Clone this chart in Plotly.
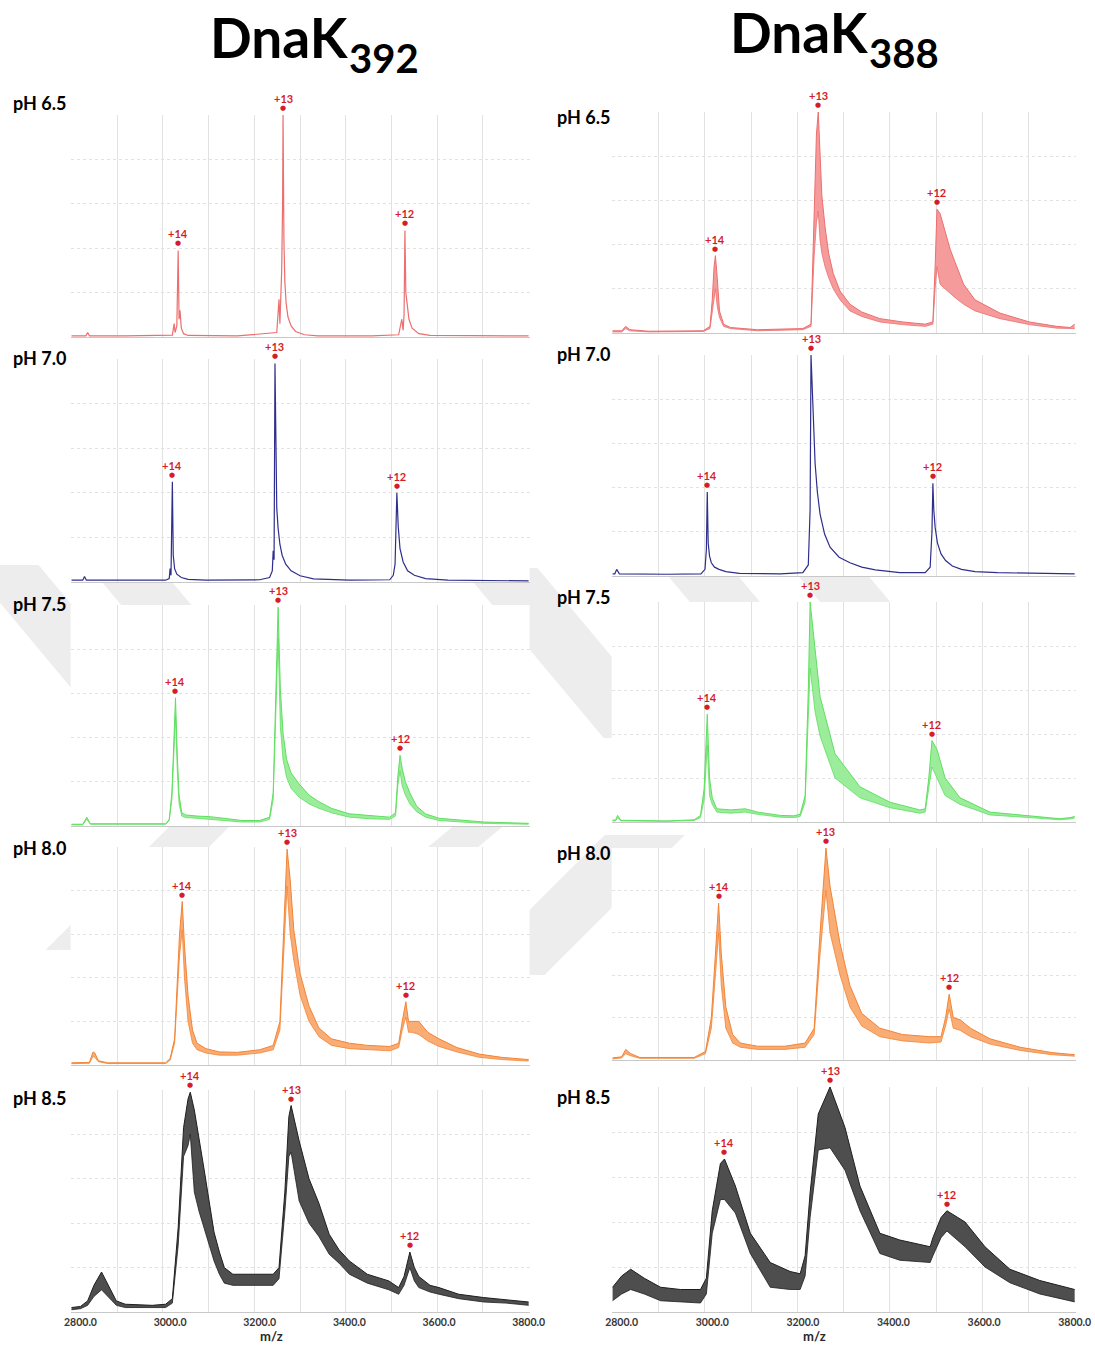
import plotly.graph_objects as go

# ---------------------------------------------------------------- data
# m/z axis window and tick labels
mz_range = [2780, 3800]
tick_vals = [2800, 3000, 3200, 3400, 3600, 3800]
tick_text = ["2800.0", "3000.0", "3200.0", "3400.0", "3600.0", "3800.0"]
charge_labels = ["+14", "+13", "+12"]
ph_labels = ["pH 6.5", "pH 7.0", "pH 7.5", "pH 8.0", "pH 8.5"]

# ---- DnaK392 ----
mz_392_65 = [2780, 2812, 2816, 2820, 2900, 3005, 3009, 3011, 3015, 3018, 3020, 3022, 3025, 3030, 3040,
             3150, 3238, 3243, 3245, 3249, 3251, 3252, 3254, 3256, 3259, 3263, 3270, 3280, 3300, 3330,
             3450, 3510, 3517, 3520, 3522, 3524, 3526, 3529, 3533, 3540, 3555, 3580, 3700, 3800]
hi_392_65 = [0.005, 0.005, 0.02, 0.005, 0.005, 0.008, 0.06, 0.02, 0.05, 0.39, 0.08, 0.12, 0.04, 0.015, 0.007,
             0.005, 0.02, 0.17, 0.06, 0.3, 0.6, 1.0, 0.43, 0.25, 0.15, 0.09, 0.05, 0.025, 0.01, 0.005,
             0.005, 0.01, 0.08, 0.03, 0.1, 0.48, 0.2, 0.14, 0.08, 0.04, 0.015, 0.007, 0.005, 0.005]
pk_mz_392_65 = [3018, 3252, 3524]
pk_int_392_65 = [0.39, 1.0, 0.48]

mz_392_70 = [2780, 2805, 2809, 2813, 2990, 2998, 3000, 3002, 3005, 3007, 3010, 3015, 3025, 3040, 3080,
             3200, 3222, 3228, 3230, 3232, 3234, 3236, 3238, 3241, 3245, 3250, 3258, 3270, 3290, 3320,
             3400, 3490, 3498, 3502, 3506, 3509, 3513, 3520, 3530, 3545, 3570, 3620, 3800]
hi_392_70 = [0.008, 0.008, 0.025, 0.008, 0.008, 0.015, 0.06, 0.03, 0.45, 0.12, 0.06, 0.035, 0.02, 0.012, 0.008,
             0.01, 0.02, 0.05, 0.14, 0.1, 0.98, 0.5, 0.33, 0.24, 0.17, 0.12, 0.08, 0.05, 0.028, 0.014,
             0.008, 0.01, 0.03, 0.08, 0.40, 0.25, 0.15, 0.09, 0.05, 0.03, 0.015, 0.008, 0.005]
pk_mz_392_70 = [3005, 3234, 3506]
pk_int_392_70 = [0.45, 0.98, 0.40]

mz_392_75 = [2780, 2805, 2814, 2822, 2990, 2998, 3004, 3008, 3012, 3016, 3020, 3026, 3035, 3060, 3090,
             3120, 3160, 3200, 3222, 3230, 3236, 3241, 3246, 3252, 3260, 3270, 3288, 3310, 3332, 3360,
             3400, 3450, 3490, 3503, 3508, 3513, 3518, 3525, 3535, 3550, 3570, 3600, 3650, 3700, 3800]
hi_392_75 = [0.008, 0.008, 0.04, 0.01, 0.01, 0.03, 0.15, 0.35, 0.58, 0.32, 0.14, 0.06, 0.05, 0.045, 0.042,
             0.035, 0.025, 0.025, 0.04, 0.15, 0.6, 0.99, 0.62, 0.42, 0.3, 0.24, 0.19, 0.14, 0.11, 0.08,
             0.055, 0.045, 0.04, 0.06, 0.22, 0.32, 0.26, 0.2, 0.15, 0.09, 0.055, 0.035, 0.025, 0.018, 0.012]
lo_392_75 = [0.005, 0.005, 0.03, 0.008, 0.008, 0.025, 0.12, 0.3, 0.5, 0.25, 0.1, 0.045, 0.038, 0.035, 0.03,
             0.025, 0.018, 0.018, 0.03, 0.12, 0.5, 0.85, 0.45, 0.3, 0.22, 0.17, 0.13, 0.1, 0.08, 0.06,
             0.04, 0.032, 0.03, 0.045, 0.18, 0.25, 0.18, 0.14, 0.1, 0.065, 0.04, 0.025, 0.018, 0.012, 0.008]
pk_mz_392_75 = [3012, 3241, 3513]
pk_int_392_75 = [0.58, 0.99, 0.32]

mz_392_80 = [2780, 2820, 2828, 2832, 2840, 2860, 2990, 3000, 3010, 3015, 3021, 3027, 3032, 3040, 3050,
             3060, 3080, 3110, 3150, 3200, 3230, 3245, 3252, 3261, 3268, 3276, 3290, 3310, 3332, 3360,
             3400, 3440, 3490, 3510, 3518, 3526, 3532, 3540, 3555, 3575, 3600, 3640, 3690, 3740, 3800]
hi_392_80 = [0.01, 0.012, 0.06, 0.055, 0.02, 0.01, 0.01, 0.03, 0.12, 0.34, 0.6, 0.75, 0.55, 0.32, 0.16,
             0.1, 0.075, 0.06, 0.058, 0.07, 0.09, 0.2, 0.55, 0.99, 0.85, 0.62, 0.42, 0.27, 0.17, 0.12,
             0.1, 0.09, 0.085, 0.1, 0.2, 0.29, 0.2, 0.2, 0.2, 0.15, 0.12, 0.08, 0.05, 0.035, 0.025]
lo_392_80 = [0.006, 0.008, 0.04, 0.035, 0.015, 0.007, 0.007, 0.022, 0.1, 0.3, 0.5, 0.62, 0.4, 0.2, 0.1,
             0.07, 0.055, 0.045, 0.045, 0.055, 0.07, 0.16, 0.45, 0.82, 0.6, 0.48, 0.32, 0.2, 0.13, 0.09,
             0.075, 0.07, 0.065, 0.08, 0.16, 0.22, 0.15, 0.15, 0.14, 0.11, 0.085, 0.06, 0.035, 0.025, 0.018]
pk_mz_392_80 = [3027, 3261, 3526]
pk_int_392_80 = [0.75, 0.99, 0.29]

mz_392_85 = [2780, 2800, 2816, 2830, 2847, 2862, 2880, 2900, 2960, 2990, 3005, 3018, 3030, 3040, 3045,
             3054, 3065, 3076, 3087, 3098, 3110, 3121, 3140, 3180, 3230, 3243, 3256, 3265, 3270, 3288,
             3310, 3332, 3355, 3377, 3400, 3440, 3488, 3510, 3522, 3535, 3545, 3555, 3580, 3600, 3644,
             3700, 3750, 3800]
hi_392_85 = [0.02, 0.025, 0.05, 0.12, 0.18, 0.12, 0.05, 0.035, 0.03, 0.035, 0.06, 0.38, 0.83, 0.96, 0.99,
             0.91, 0.78, 0.64, 0.5, 0.36, 0.27, 0.2, 0.17, 0.17, 0.17, 0.2, 0.54, 0.88, 0.93, 0.77,
             0.6, 0.49, 0.35, 0.28, 0.23, 0.17, 0.14, 0.11, 0.16, 0.27, 0.2, 0.16, 0.12, 0.11, 0.08,
             0.065, 0.055, 0.045]
lo_392_85 = [0.01, 0.015, 0.03, 0.07, 0.1, 0.07, 0.03, 0.02, 0.018, 0.02, 0.04, 0.3, 0.7, 0.75, 0.8,
             0.54, 0.45, 0.38, 0.3, 0.23, 0.17, 0.13, 0.12, 0.12, 0.12, 0.15, 0.45, 0.7, 0.72, 0.5,
             0.4, 0.34, 0.26, 0.22, 0.17, 0.13, 0.1, 0.08, 0.12, 0.2, 0.14, 0.11, 0.09, 0.08, 0.06,
             0.045, 0.04, 0.03]
pk_mz_392_85 = [3045, 3270, 3535]
pk_int_392_85 = [0.99, 0.93, 0.27]

# ---- DnaK388 ----
mz_388_65 = [2780, 2800, 2809, 2818, 2860, 2980, 2995, 3000, 3004, 3007, 3011, 3016, 3025, 3040, 3100,
             3200, 3218, 3225, 3230, 3234, 3238, 3242, 3249, 3257, 3267, 3282, 3304, 3330, 3370, 3420,
             3470, 3487, 3492, 3496, 3503, 3514, 3525, 3536, 3555, 3580, 3635, 3700, 3760, 3790, 3800]
hi_388_65 = [0.01, 0.01, 0.03, 0.015, 0.008, 0.01, 0.03, 0.15, 0.3, 0.35, 0.25, 0.1, 0.04, 0.025, 0.015,
             0.02, 0.04, 0.5, 0.9, 1.0, 0.8, 0.62, 0.48, 0.36, 0.27, 0.19, 0.13, 0.095, 0.065, 0.05,
             0.04, 0.05, 0.3, 0.56, 0.54, 0.46, 0.38, 0.32, 0.22, 0.15, 0.09, 0.05, 0.03, 0.025, 0.04]
lo_388_65 = [0.005, 0.005, 0.02, 0.01, 0.005, 0.007, 0.02, 0.1, 0.15, 0.2, 0.12, 0.07, 0.03, 0.02, 0.01,
             0.015, 0.03, 0.35, 0.5, 0.55, 0.42, 0.36, 0.3, 0.25, 0.2, 0.15, 0.1, 0.075, 0.05, 0.038,
             0.03, 0.04, 0.2, 0.3, 0.22, 0.2, 0.18, 0.16, 0.13, 0.1, 0.065, 0.038, 0.022, 0.018, 0.02]
pk_mz_388_65 = [3007, 3234, 3496]
pk_int_388_65 = [0.35, 1.0, 0.56]

mz_388_70 = [2780, 2785, 2789, 2795, 2900, 2975, 2984, 2987, 2989, 2991, 2994, 2998, 3005, 3015, 3030,
             3060, 3150, 3200, 3212, 3216, 3218, 3220, 3223, 3227, 3232, 3238, 3248, 3260, 3280, 3304,
             3330, 3360, 3414, 3470, 3481, 3485, 3487, 3489, 3492, 3497, 3505, 3515, 3530, 3550, 3580,
             3630, 3800]
hi_388_70 = [0.01, 0.01, 0.03, 0.01, 0.008, 0.01, 0.03, 0.12, 0.38, 0.15, 0.09, 0.06, 0.04, 0.03, 0.02,
             0.012, 0.01, 0.015, 0.05, 0.3, 1.0, 0.89, 0.7, 0.51, 0.38, 0.28, 0.19, 0.13, 0.085, 0.06,
             0.04, 0.028, 0.015, 0.015, 0.04, 0.2, 0.42, 0.3, 0.22, 0.15, 0.1, 0.07, 0.045, 0.03, 0.02,
             0.015, 0.01]
pk_mz_388_70 = [2989, 3218, 3487]
pk_int_388_70 = [0.38, 1.0, 0.42]

mz_388_75 = [2780, 2787, 2791, 2798, 2900, 2960, 2974, 2982, 2989, 2994, 3000, 3010, 3040, 3073, 3100,
             3150, 3180, 3194, 3205, 3212, 3216, 3227, 3238, 3271, 3326, 3392, 3458, 3470, 3478, 3485,
             3496, 3514, 3547, 3613, 3700, 3767, 3790, 3800]
hi_388_75 = [0.008, 0.01, 0.03, 0.008, 0.005, 0.01, 0.03, 0.15, 0.49, 0.2, 0.11, 0.06, 0.055, 0.06, 0.045,
             0.03, 0.028, 0.035, 0.12, 0.6, 1.0, 0.8, 0.57, 0.31, 0.16, 0.09, 0.055, 0.06, 0.2, 0.37,
             0.33, 0.2, 0.11, 0.045, 0.027, 0.015, 0.02, 0.025]
lo_388_75 = [0.005, 0.006, 0.02, 0.005, 0.003, 0.007, 0.02, 0.1, 0.35, 0.12, 0.08, 0.045, 0.04, 0.045, 0.035,
             0.022, 0.02, 0.025, 0.09, 0.45, 0.7, 0.5, 0.39, 0.2, 0.11, 0.065, 0.04, 0.045, 0.15, 0.25,
             0.2, 0.12, 0.08, 0.032, 0.02, 0.01, 0.014, 0.018]
pk_mz_388_75 = [2989, 3216, 3485]
pk_int_388_75 = [0.49, 1.0, 0.37]

mz_388_80 = [2780, 2800, 2809, 2820, 2840, 2960, 2985, 2998, 3007, 3014, 3020, 3030, 3045, 3062, 3100,
             3160, 3205, 3225, 3238, 3251, 3260, 3282, 3304, 3330, 3370, 3420, 3480, 3505, 3515, 3523,
             3532, 3547, 3570, 3613, 3680, 3750, 3800]
hi_388_80 = [0.01, 0.015, 0.05, 0.03, 0.012, 0.012, 0.04, 0.2, 0.5, 0.74, 0.5, 0.25, 0.12, 0.08, 0.065,
             0.065, 0.08, 0.15, 0.6, 1.0, 0.82, 0.55, 0.35, 0.22, 0.15, 0.12, 0.11, 0.11, 0.2, 0.31,
             0.2, 0.19, 0.15, 0.1, 0.06, 0.035, 0.025]
lo_388_80 = [0.005, 0.01, 0.03, 0.02, 0.008, 0.008, 0.03, 0.15, 0.4, 0.6, 0.35, 0.15, 0.08, 0.06, 0.05,
             0.05, 0.06, 0.12, 0.5, 0.8, 0.6, 0.4, 0.25, 0.16, 0.11, 0.09, 0.08, 0.085, 0.16, 0.24,
             0.15, 0.14, 0.11, 0.075, 0.045, 0.025, 0.018]
pk_mz_388_80 = [3014, 3251, 3523]
pk_int_388_80 = [0.74, 1.0, 0.31]

mz_388_85 = [2780, 2800, 2820, 2850, 2886, 2930, 2974, 2987, 3000, 3018, 3027, 3051, 3084, 3128, 3172,
             3194, 3205, 3216, 3234, 3260, 3293, 3326, 3370, 3414, 3481, 3487, 3505, 3518, 3558, 3602,
             3657, 3723, 3800]
hi_388_85 = [0.11, 0.16, 0.19, 0.15, 0.11, 0.1, 0.1, 0.15, 0.45, 0.66, 0.68, 0.56, 0.35, 0.22, 0.18,
             0.17, 0.25, 0.53, 0.88, 1.0, 0.82, 0.56, 0.35, 0.32, 0.29, 0.33, 0.42, 0.45, 0.4, 0.29,
             0.19, 0.14, 0.1]
lo_388_85 = [0.05, 0.08, 0.1, 0.08, 0.05, 0.045, 0.04, 0.08, 0.35, 0.5, 0.5, 0.44, 0.26, 0.11, 0.1,
             0.1, 0.16, 0.42, 0.72, 0.73, 0.63, 0.45, 0.26, 0.23, 0.22, 0.25, 0.33, 0.36, 0.29, 0.2,
             0.13, 0.08, 0.045]
pk_mz_388_85 = [3027, 3260, 3518]
pk_int_388_85 = [0.68, 1.0, 0.45]

# ---------------------------------------------------------------- styling
W, H = 1095, 1349
FONT = "Lato"
LABEL_RED = "rgb(214,28,40)"
GRID = "rgb(226,226,226)"
MARK_GREY = "rgb(237,237,237)"

line_colors = ["rgb(236,110,110)", "rgb(46,46,140)", "rgb(96,222,96)", "rgb(242,132,54)", "rgb(30,30,30)"]
fill_colors = ["rgba(246,150,150,0.95)", "rgba(120,120,196,0.95)", "rgba(150,236,150,0.95)",
               "rgba(249,168,108,0.95)", "rgba(68,68,68,0.95)"]


def fx(p):
    """Horizontal pixel position -> paper fraction (compensates the page's horizontal fit)."""
    return ((p - 7.5) / 0.978) / W


def fy(p):
    return 1 - p / H


def poly(points):
    return "M " + " L ".join(f"{fx(x):.5f},{fy(y):.5f}" for x, y in points) + " Z"


# panel boxes in pixels: (left, right) per column, (top, bottom) per row
col_px = [(72, 530), (612, 1075)]
row_px = [
    [(115, 337), (359, 582), (605, 826), (847, 1065), (1090, 1312)],
    [(112, 333), (355, 576), (602, 822), (848, 1060), (1087, 1312)],
]
ph_label_y = [[103, 358, 604, 848, 1098], [117, 354, 597, 853, 1097]]
ph_label_x = [12, 555]

spectra = [
    [
        (mz_392_65, hi_392_65, None, pk_mz_392_65, pk_int_392_65),
        (mz_392_70, hi_392_70, None, pk_mz_392_70, pk_int_392_70),
        (mz_392_75, hi_392_75, lo_392_75, pk_mz_392_75, pk_int_392_75),
        (mz_392_80, hi_392_80, lo_392_80, pk_mz_392_80, pk_int_392_80),
        (mz_392_85, hi_392_85, lo_392_85, pk_mz_392_85, pk_int_392_85),
    ],
    [
        (mz_388_65, hi_388_65, lo_388_65, pk_mz_388_65, pk_int_388_65),
        (mz_388_70, hi_388_70, None, pk_mz_388_70, pk_int_388_70),
        (mz_388_75, hi_388_75, lo_388_75, pk_mz_388_75, pk_int_388_75),
        (mz_388_80, hi_388_80, lo_388_80, pk_mz_388_80, pk_int_388_80),
        (mz_388_85, hi_388_85, lo_388_85, pk_mz_388_85, pk_int_388_85),
    ],
]

# vertical grid: ten equal divisions of the m/z window (edges included)
grid_x = [mz_range[0] + i * (mz_range[1] - mz_range[0]) / 10 for i in range(11)]
grid_y = [0.2, 0.4, 0.6, 0.8]
x_view = [mz_range[0] - 2, mz_range[1] + 2]

fig = go.Figure()
layout = {}
annotations = []
shapes = []

# faint page watermark bands, later masked by the white panel backgrounds
band_polys = [
    [(-30, 565), (40, 565), (175, 727), (105, 727)],
    [(95, 572), (165, 572), (215, 632), (145, 632)],
    [(462, 568), (538, 568), (680, 738), (604, 738)],
    [(660, 566), (730, 566), (770, 614), (700, 614)],
    [(790, 566), (860, 566), (900, 614), (830, 614)],
    [(207, 790), (267, 790), (107, 950), (47, 950)],
    [(478, 806), (528, 806), (468, 856), (418, 856)],
    [(605, 835), (685, 835), (545, 975), (465, 975)],
]
for pts in band_polys:
    shapes.append(dict(type="path", path=poly(pts), xref="paper", yref="paper",
                       fillcolor=MARK_GREY, line=dict(width=0), layer="below"))

k = 0
for c in range(2):
    for r in range(5):
        k += 1
        xa = "x" if k == 1 else f"x{k}"
        ya = "y" if k == 1 else f"y{k}"
        mz, hi, lo, pk_mz, pk_int = spectra[c][r]
        lc, fc = line_colors[r], fill_colors[r]
        left, right = col_px[c]
        top, bottom = row_px[c][r]

        # white panel background
        shapes.append(dict(type="rect", xref="paper", yref="paper",
                           x0=fx(left), x1=fx(right), y0=fy(bottom), y1=fy(top),
                           fillcolor="white", line=dict(width=0), layer="below"))

        if lo is not None:
            fig.add_trace(go.Scatter(x=mz, y=lo, xaxis=xa, yaxis=ya, mode="lines",
                                     line=dict(color=lc, width=0.8), hoverinfo="skip",
                                     showlegend=False))
            fig.add_trace(go.Scatter(x=mz, y=hi, xaxis=xa, yaxis=ya, mode="lines",
                                     line=dict(color=lc, width=1), fill="tonexty",
                                     fillcolor=fc, showlegend=False))
        else:
            fig.add_trace(go.Scatter(x=mz, y=hi, xaxis=xa, yaxis=ya, mode="lines",
                                     line=dict(color=lc, width=1.2), showlegend=False))

        # charge-state dot and label just above each apex
        for lab, m, v in zip(charge_labels, pk_mz, pk_int):
            annotations.append(dict(text="●", x=m, y=v, xref=xa, yref=ya, showarrow=False,
                                    xanchor="center", yanchor="middle", yshift=7,
                                    font=dict(family="DejaVu Sans", size=7, color=LABEL_RED)))
            annotations.append(dict(text=lab, x=m, y=v, xref=xa, yref=ya, showarrow=False,
                                    xanchor="center", yanchor="bottom", yshift=8,
                                    font=dict(family=FONT, size=11, color=LABEL_RED,
                                              weight="bold")))

        bottom_row = (r == 4)
        layout["xaxis" if k == 1 else f"xaxis{k}"] = dict(
            domain=[fx(left), fx(right)], anchor=ya, range=x_view,
            tickmode="array", tickvals=tick_vals, ticktext=tick_text,
            showticklabels=bottom_row, ticks="", showgrid=False, zeroline=False,
            showline=True, linecolor="rgb(200,200,200)", linewidth=1,
            tickfont=dict(family=FONT, size=10.5, color="rgb(55,55,55)", weight="bold"),
            minor=dict(tickmode="array", tickvals=grid_x, showgrid=True,
                       gridcolor=GRID, gridwidth=1, ticks=""),
            fixedrange=True,
        )
        layout["yaxis" if k == 1 else f"yaxis{k}"] = dict(
            domain=[fy(bottom), fy(top)], anchor=xa, range=[0, 1.0],
            tickmode="array", tickvals=grid_y, showticklabels=False, ticks="",
            showgrid=True, gridcolor=GRID, griddash="dot", gridwidth=1,
            zeroline=False, showline=False, fixedrange=True,
        )

        annotations.append(dict(
            text=ph_labels[r], xref="paper", yref="paper",
            x=fx(ph_label_x[c]), y=fy(ph_label_y[c][r]),
            xanchor="left", yanchor="middle", showarrow=False,
            font=dict(family=FONT, size=18, color="black", weight="bold")))

# column titles with subscripted construct length
for name_x, sub, ty in [(352, "392", 37), (871, "388", 32)]:
    annotations.append(dict(text="DnaK", xref="paper", yref="paper", x=fx(name_x), y=fy(ty),
                            xanchor="right", yanchor="middle", showarrow=False,
                            font=dict(family=FONT, size=55, color="black", weight="bold")))
    annotations.append(dict(text=sub, xref="paper", yref="paper", x=fx(name_x - 4), y=fy(ty + 21),
                            xanchor="left", yanchor="middle", showarrow=False,
                            font=dict(family=FONT, size=40, color="black", weight="bold")))

for mx in (272, 814):
    annotations.append(dict(text="m/z", xref="paper", yref="paper", x=fx(mx), y=fy(1336),
                            xanchor="center", yanchor="middle", showarrow=False,
                            font=dict(family=FONT, size=13, color="rgb(40,40,40)", weight="bold")))

fig.update_layout(
    width=W, height=H, margin=dict(l=0, r=0, t=0, b=0),
    paper_bgcolor="white", plot_bgcolor="rgba(0,0,0,0)",
    annotations=annotations, shapes=shapes, showlegend=False, **layout)

fig.write_html("out.html")
